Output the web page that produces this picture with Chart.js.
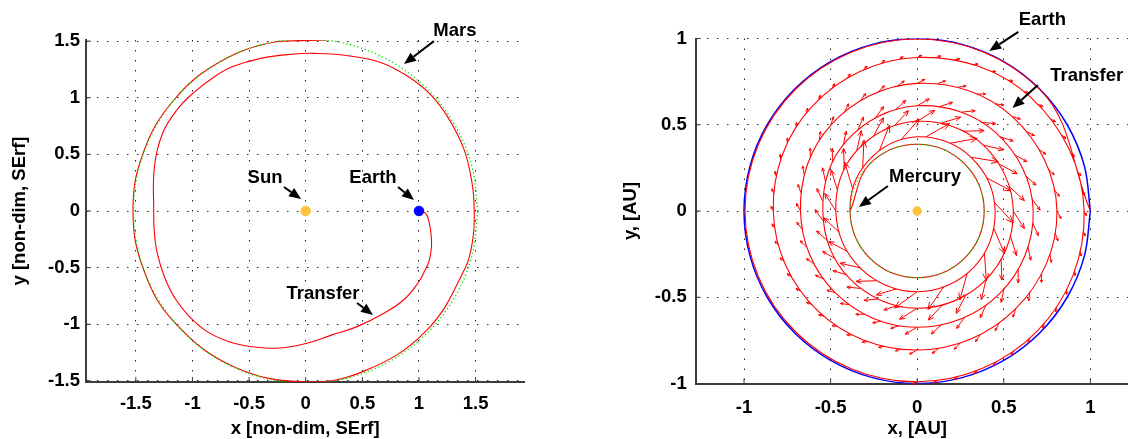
<!DOCTYPE html>
<html>
<head>
<meta charset="utf-8">
<title>Low-thrust transfers</title>
<script src="https://cdn.jsdelivr.net/npm/chart.js@4.4.1/dist/chart.umd.min.js"></script>
<style>
  html, body { margin: 0; padding: 0; background: #fff; }
  body { width: 1128px; height: 439px; position: relative; overflow: hidden; }
  canvas { position: absolute; top: 0; }
  #marsCanvas { left: 0; }
  #mercuryCanvas { left: 560px; }
</style>
</head>
<body>
<canvas id="marsCanvas" width="560" height="439"></canvas>
<canvas id="mercuryCanvas" width="600" height="439"></canvas>
<script>
// ---------- DATA ----------
// angles used to trace the near-circular planet orbits (deg)
const orbitDeg = [0, 15, 30, 45, 60, 75, 90, 105, 120, 135, 150, 165, 180,
                  195, 210, 225, 240, 255, 270, 285, 300, 315, 330, 345, 360];

// left plot: Earth -> Mars, non-dimensional units
const marsRadius = 1.52;
const sunPos = [0, 0];
const earthPos = [1, 0];
const transferX = [1.00, 1.06, 1.09, 1.108, 1.11, 1.09, 1.05, 0.99, 0.864, 0.69, 0.454, 0.233, 0.012,
                   -0.177, -0.303, -0.492, -0.681, -0.87, -1.027, -1.154, -1.248, -1.311, -1.336, -1.342,
                   -1.336, -1.264, -1.138, -0.996, -0.807, -0.649, -0.397, -0.10, 0.076, 0.328, 0.643,
                   0.90, 1.10, 1.26, 1.40, 1.469, 1.488,
                   1.475, 1.405, 1.061, 0.515, 0.0, -0.64, -1.164, -1.43, -1.525,
                   -1.432, -1.166, -0.76, -0.264, 0.19];
const transferY = [0.00, -0.02, -0.10, -0.22, -0.32, -0.44, -0.53, -0.638, -0.786, -0.903, -1.021, -1.094, -1.168,
                   -1.206, -1.212, -1.197, -1.153, -1.065, -0.933, -0.771, -0.58, -0.373, -0.197, 0.0,
                   0.391, 0.686, 0.892, 1.039, 1.186, 1.274, 1.348, 1.387, 1.392, 1.377, 1.318,
                   1.19, 1.03, 0.82, 0.538, 0.244, 0.0,
                   -0.25, -0.511, -1.061, -1.414, -1.51, -1.373, -0.977, -0.521, 0.0,
                   0.521, 0.978, 1.316, 1.495, 1.51];
const leftTicks = [-1.5, -1, -0.5, 0, 0.5, 1, 1.5];

// right plot: Earth -> Mercury spiral, AU (distance from the Sun at each angle)
const earthRadiusAU = 1.0;
const mercuryRadiusAU = 0.387;
const spiralDeg = [0, 45, 90, 135, 180, 225, 270, 315, 360, 405, 450, 495, 540, 585, 630,
                   675, 720, 765, 810, 855, 900, 945, 990, 1035, 1080, 1125, 1170, 1215,
                   1260, 1305, 1350, 1395, 1440, 1485, 1530, 1575, 1620, 1665, 1710, 1755,
                   1800, 1845, 1890, 1935, 1980, 2025, 2070, 2115, 2160, 2205, 2250, 2295, 2340];
const spiralRadius = [1.0, 0.999, 0.997, 0.996, 0.994, 0.992, 0.99, 0.982, 0.964, 0.93, 0.89,
                      0.858, 0.831, 0.815, 0.806, 0.803, 0.807, 0.775, 0.74, 0.705, 0.674, 0.67,
                      0.674, 0.675, 0.67, 0.642, 0.61, 0.576, 0.545, 0.553, 0.564, 0.562,
                      0.555, 0.54, 0.52, 0.494, 0.47, 0.466, 0.468, 0.462, 0.45, 0.44,
                      0.43, 0.405, 0.388, 0.387, 0.387, 0.387, 0.387, 0.387, 0.387, 0.387, 0.387];
// thrust arrows, one entry per revolution of the spiral
const thrustStartDeg = [270, 630, 990, 1350, 1710];
const thrustEndDeg = [630, 990, 1350, 1710, 1980];
const thrustCount = [52, 40, 30, 24, 14];
const thrustLength = [0.03, 0.05, 0.08, 0.12, 0.16];
const thrustTilt = [25, 28, 30, 32, 36];
const rightTicks = [-1, -0.5, 0, 0.5, 1];

// ---------- HELPERS ----------
const FONT = '"Liberation Sans", Arial, Helvetica, sans-serif';
const RED = '#ff0000', GREEN = '#00e000', BLUE = '#0000ff', SUN = '#fbc43c';
const AXIS = '#3c3c3c';

function polar(deg, r) {
    const t = deg * Math.PI / 180;
    return { x: r * Math.cos(t), y: r * Math.sin(t) };
}

function radiusAt(deg) {
    for (let i = 1; i < spiralDeg.length; i++) {
        if (deg <= spiralDeg[i]) {
            const t = (deg - spiralDeg[i - 1]) / (spiralDeg[i] - spiralDeg[i - 1]);
            return spiralRadius[i - 1] + t * (spiralRadius[i] - spiralRadius[i - 1]);
        }
    }
    return spiralRadius[spiralRadius.length - 1];
}

function axis(min, max, ticks, title, size, tickPad, titlePad) {
    return {
        type: 'linear', min: min, max: max,
        afterBuildTicks: s => { s.ticks = ticks.map(v => ({ value: v })); },
        afterFit: s => { if (s.isHorizontal()) s.height = size; else s.width = size; },
        grid: { color: 'rgba(0,0,0,0.85)', lineWidth: 1, drawTicks: false },
        border: { display: true, color: AXIS, width: 2, dash: [1.5, 8.5] },
        ticks: {
            color: '#000', padding: tickPad, autoSkip: false, maxRotation: 0,
            font: { family: FONT, size: 18.5, weight: 'bold' },
            callback: v => String(v)
        },
        title: {
            display: true, text: title, color: '#000', padding: titlePad,
            font: { family: FONT, size: 18.5, weight: 'bold' }
        }
    };
}

// matlab style inward ticks
const innerTicks = {
    id: 'innerTicks',
    afterDraw(chart) {
        const { ctx, chartArea: a, scales: { x, y } } = chart;
        ctx.save();
        ctx.strokeStyle = AXIS;
        ctx.lineWidth = 1;
        ctx.beginPath();
        x.ticks.forEach(t => {
            const px = x.getPixelForValue(t.value);
            ctx.moveTo(px, a.bottom); ctx.lineTo(px, a.bottom - 5);
        });
        y.ticks.forEach(t => {
            const py = y.getPixelForValue(t.value);
            ctx.moveTo(a.left, py); ctx.lineTo(a.left + 5, py);
        });
        ctx.stroke();
        ctx.restore();
    }
};

// text labels with black arrows
function drawNote(chart, n) {
    const { ctx, scales: { x, y } } = chart;
    const x1 = x.getPixelForValue(n.from[0]), y1 = y.getPixelForValue(n.from[1]);
    const x2 = x.getPixelForValue(n.to[0]), y2 = y.getPixelForValue(n.to[1]);
    const ang = Math.atan2(y2 - y1, x2 - x1);
    const head = 12, half = 5;
    ctx.save();
    ctx.strokeStyle = '#000';
    ctx.fillStyle = '#000';
    ctx.lineWidth = 2;
    ctx.beginPath();
    ctx.moveTo(x1, y1);
    ctx.lineTo(x2 - head * Math.cos(ang), y2 - head * Math.sin(ang));
    ctx.stroke();
    ctx.beginPath();
    ctx.moveTo(x2, y2);
    ctx.lineTo(x2 - head * Math.cos(ang) + half * Math.sin(ang), y2 - head * Math.sin(ang) - half * Math.cos(ang));
    ctx.lineTo(x2 - head * Math.cos(ang) - half * Math.sin(ang), y2 - head * Math.sin(ang) + half * Math.cos(ang));
    ctx.closePath();
    ctx.fill();
    ctx.font = 'bold 18.5px ' + FONT;
    ctx.textAlign = 'center';
    ctx.textBaseline = 'middle';
    ctx.fillText(n.text, x.getPixelForValue(n.x), y.getPixelForValue(n.y));
    ctx.restore();
}

const notes = {
    id: 'notes',
    afterDraw(chart, args, opts) {
        (opts.items || []).forEach(n => drawNote(chart, n));
    }
};

// thrust direction arrows along the spiral
const quiver = {
    id: 'quiver',
    afterDatasetsDraw(chart) {
        const { ctx, scales: { x, y } } = chart;
        ctx.save();
        ctx.strokeStyle = RED;
        ctx.lineWidth = 1;
        thrustStartDeg.forEach((start, j) => {
            const n = thrustCount[j];
            const step = (thrustEndDeg[j] - start) / n;
            const tilt = thrustTilt[j] * Math.PI / 180;
            for (let k = 0; k < n; k++) {
                const deg = start + step * k;
                const base = polar(deg, radiusAt(deg));
                const t = deg * Math.PI / 180;
                const dx = Math.cos(tilt) * Math.sin(t) + Math.sin(tilt) * Math.cos(t);
                const dy = -Math.cos(tilt) * Math.cos(t) + Math.sin(tilt) * Math.sin(t);
                const bx = x.getPixelForValue(base.x), by = y.getPixelForValue(base.y);
                const tx = x.getPixelForValue(base.x + thrustLength[j] * dx);
                const ty = y.getPixelForValue(base.y + thrustLength[j] * dy);
                const len = Math.hypot(tx - bx, ty - by);
                const ang = Math.atan2(ty - by, tx - bx);
                const h = Math.max(3, 0.28 * len);
                ctx.beginPath();
                ctx.moveTo(bx, by); ctx.lineTo(tx, ty);
                ctx.moveTo(tx - h * Math.cos(ang - 0.4), ty - h * Math.sin(ang - 0.4));
                ctx.lineTo(tx, ty);
                ctx.lineTo(tx - h * Math.cos(ang + 0.4), ty - h * Math.sin(ang + 0.4));
                ctx.stroke();
            }
        });
        ctx.restore();
    }
};

const common = {
    responsive: false,
    animation: false,
    events: [],
    plugins: { legend: { display: false }, tooltip: { enabled: false } }
};

// ---------- LEFT: Earth to Mars ----------
new Chart(document.getElementById('marsCanvas'), {
    type: 'scatter',
    data: {
        datasets: [
            { data: [{ x: sunPos[0], y: sunPos[1] }], pointRadius: 4.8, backgroundColor: SUN, borderColor: SUN, order: 0 },
            { data: [{ x: earthPos[0], y: earthPos[1] }], pointRadius: 4.8, backgroundColor: BLUE, borderColor: BLUE, order: 0 },
            { data: orbitDeg.map(d => polar(d, marsRadius)), showLine: true, borderColor: GREEN,
              borderWidth: 1.4, borderDash: [1.2, 2.6], pointRadius: 0, tension: 0.34, order: 1 },
            { data: transferX.map((v, i) => ({ x: v, y: transferY[i] })), showLine: true, borderColor: RED,
              borderWidth: 1.1, pointRadius: 0, tension: 0.4, order: 2 }
        ]
    },
    options: Object.assign({}, common, {
        layout: { padding: { left: 0, right: 35.7, top: 40, bottom: 0 } },
        scales: {
            x: axis(-1.94, 1.93, leftTicks, 'x [non-dim, SErf]', 57, 11, { top: 0, bottom: -1 }),
            y: axis(-1.51, 1.51, leftTicks, 'y [non-dim, SErf]', 86, 6, { top: 9, bottom: 0 })
        },
        plugins: Object.assign({}, common.plugins, {
            notes: { items: [
                { text: 'Mars', x: 1.317, y: 1.589, from: [1.132, 1.50], to: [0.868, 1.297] },
                { text: 'Sun', x: -0.359, y: 0.291, from: [-0.192, 0.212], to: [-0.041, 0.106] },
                { text: 'Earth', x: 0.594, y: 0.291, from: [0.815, 0.212], to: [0.956, 0.097] },
                { text: 'Transfer', x: 0.153, y: -0.733, from: [0.453, -0.812], to: [0.594, -0.918] }
            ] }
        })
    }),
    plugins: [innerTicks, notes]
});

// ---------- RIGHT: Earth to Mercury ----------
new Chart(document.getElementById('mercuryCanvas'), {
    type: 'scatter',
    data: {
        datasets: [
            { data: [{ x: 0, y: 0 }], pointRadius: 4.3, backgroundColor: SUN, borderColor: SUN, order: 0 },
            { data: orbitDeg.map(d => polar(d, mercuryRadiusAU)), showLine: true, borderColor: GREEN,
              borderWidth: 1.3, borderDash: [1.2, 2.6], pointRadius: 0, tension: 0.34, order: 1 },
            { data: spiralDeg.map((d, i) => polar(d, spiralRadius[i])), showLine: true, borderColor: RED,
              borderWidth: 1.1, pointRadius: 0, tension: 0.375, order: 2 },
            { data: orbitDeg.map(d => polar(d, earthRadiusAU)), showLine: true, borderColor: BLUE,
              borderWidth: 1.5, pointRadius: 0, tension: 0.34, order: 3 }
        ]
    },
    options: Object.assign({}, common, {
        layout: { padding: { left: 0, right: 21.3, top: 38.5, bottom: 0 } },
        scales: {
            x: axis(-1.279, 1.279, rightTicks, 'x, [AU]', 55.5, 13, { top: 0, bottom: -1 }),
            y: axis(-1, 1, rightTicks, 'y, [AU]', 135.7, 9, { top: 60, bottom: 0 })
        },
        plugins: Object.assign({}, common.plugins, {
            notes: { items: [
                { text: 'Earth', x: 0.723, y: 1.107, from: [0.584, 1.038], to: [0.416, 0.928] },
                { text: 'Transfer', x: 0.979, y: 0.783, from: [0.697, 0.730], to: [0.550, 0.597] },
                { text: 'Mercury', x: 0.045, y: 0.197, from: [-0.169, 0.145], to: [-0.337, 0.023] }
            ] }
        })
    }),
    plugins: [innerTicks, quiver, notes]
});
</script>
</body>
</html>
